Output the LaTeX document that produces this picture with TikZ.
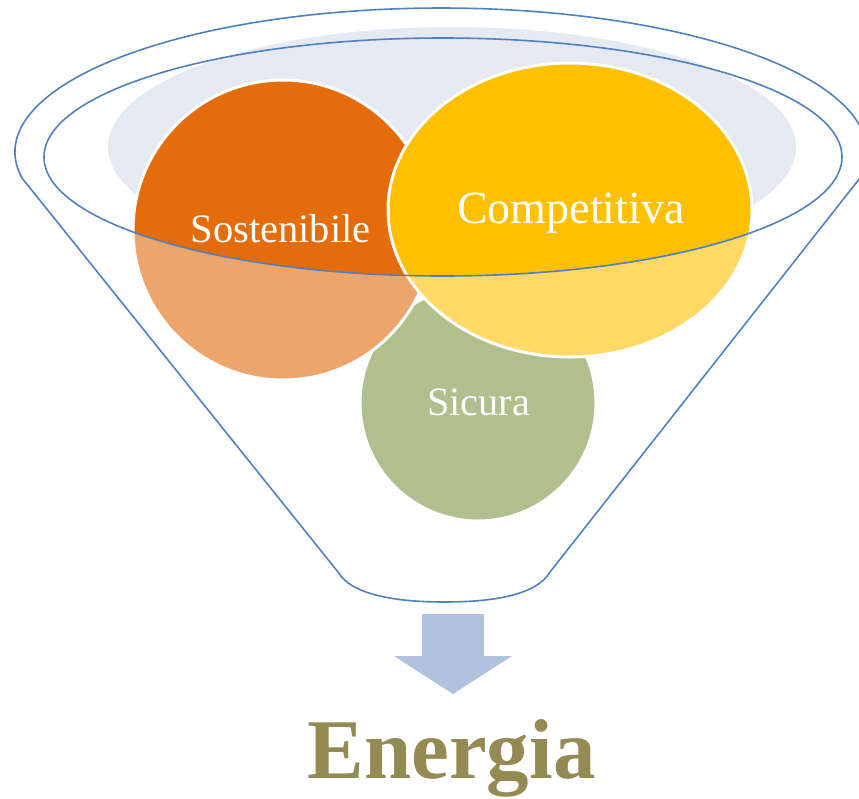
\documentclass[tikz,border=0pt]{standalone}
\usepackage{fontspec}
\setmainfont{Liberation Serif}
\definecolor{funnelblue}{HTML}{4F81BD}
\definecolor{backfill}{HTML}{E4E9F2}
\definecolor{orgdark}{HTML}{E46C0A}
\definecolor{orglight}{HTML}{EDA56B}
\definecolor{ylwdark}{HTML}{FFC000}
\definecolor{ylwlight}{HTML}{FFD966}
\definecolor{grn}{HTML}{AFBF8E}
\definecolor{arrowfill}{HTML}{B1C2DE}
\definecolor{olive}{HTML}{948A54}
\tikzset{
  outline/.style={draw=funnelblue, line width=1.6pt, line join=round},
  rim/.style={draw=white, line width=3pt},
  label/.style={text=white, inner sep=0pt, anchor=base},
}
\begin{document}
\begin{tikzpicture}[x=1pt,y=-1pt]
\useasboundingbox (0,0) rectangle (859,798);
% funnel outline
\coordinate (fl) at (22,178);
\coordinate (fbl) at (338,572);
\coordinate (fbr) at (550,572);
\draw[outline] (fl) arc[start angle=169.6, end angle=370.4, x radius=426, y radius=144]
  -- (fbr) .. controls (536,596) and (490,602) .. (444,602)
  .. controls (400,602) and (352,596) .. (fbl) -- cycle;
% back ellipse
\fill[backfill] (452,147) ellipse[x radius=344, y radius=120];
% green circle
\fill[grn] (478,403) circle[radius=118];
\draw[rim] (478,403) circle[radius=118];
% orange circle
\fill[orglight] (283,230) circle[radius=150];
\begin{scope}
  \clip (443,157) ellipse[x radius=399, y radius=119];
  \fill[orgdark] (283,230) circle[radius=150];
\end{scope}
\draw[rim] (283,230) circle[radius=150];
% yellow ellipse
\fill[ylwlight] (570,210) ellipse[x radius=182, y radius=147];
\begin{scope}
  \clip (443,157) ellipse[x radius=399, y radius=119];
  \fill[ylwdark] (570,210) ellipse[x radius=182, y radius=147];
\end{scope}
\draw[rim] (570,210) ellipse[x radius=182, y radius=147];
% inner ellipse outline
\draw[outline] (443,157) ellipse[x radius=399, y radius=119];
% labels
\node[label, font=\fontsize{40.5}{48}\selectfont] (sost) at (280.5,242) {Sostenibile};
\node[label, font=\fontsize{46}{55}\selectfont] (comp) at (571,223) {Competitiva};
\node[label, font=\fontsize{40.3}{48}\selectfont] (sic) at (478.5,415) {Sicura};
% arrow
\fill[arrowfill] (422,614) -- (484,614) -- (484,656) -- (512,656) -- (453,694) -- (394,656) -- (422,656) -- cycle;
% Energia
\node[inner sep=0pt, anchor=base, text=olive, font=\fontsize{85}{96}\selectfont\bfseries] (energia) at (451.5,778) {Energia};
\end{tikzpicture}
\end{document}
